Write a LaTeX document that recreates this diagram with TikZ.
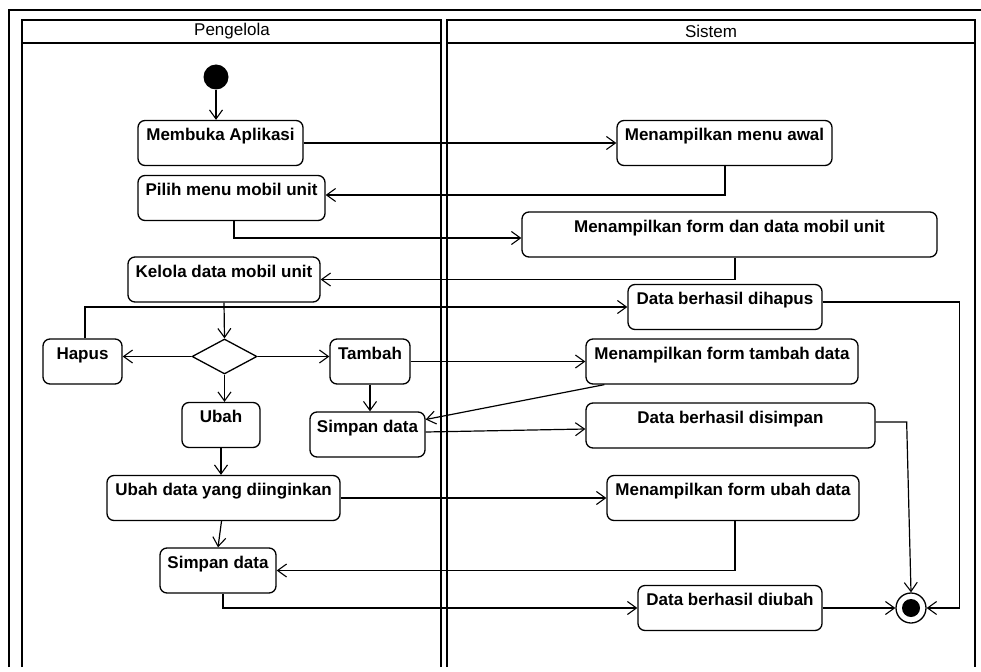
\documentclass[tikz,border=0pt]{standalone}
\usepackage{fontspec}
\setmainfont{Liberation Sans}
\usetikzlibrary{arrows.meta,shapes.geometric}
\begin{document}
\begin{tikzpicture}[x=1pt,y=-1pt,
  act/.style={draw, line width=1.3pt, rounded corners=7pt, inner sep=0pt,
    text height=20pt, text depth=25pt, minimum height=45pt,
    font=\fontsize{17}{20}\selectfont\bfseries},
  arr/.style={line width=1.2pt, -{Straight Barb[length=9pt,width=13pt,line width=1.1pt]}},
  lane/.style={line width=2pt},
  hdr/.style={font=\fontsize{17}{20}\selectfont, inner sep=0pt},
]
\useasboundingbox (0,0) rectangle (981,671);
\fill[white] (0,0) rectangle (981,671);

% frame and swimlanes
\draw[lane] (9,667) -- (9,10) -- (981,10);
\draw[lane] (22,667) -- (22,20) -- (441,20) -- (441,667);
\draw[lane] (22,43) -- (441,43);
\draw[lane] (447,667) -- (447,20) -- (975,20) -- (975,667);
\draw[lane] (447,43) -- (975,43);
\node[hdr] (hpeng) at (232,31.5) {Pengelola};
\node[hdr] (hsis) at (711,31.5) {Sistem};

% Pengelola nodes
\node[circle, fill=black, minimum size=25pt, inner sep=0pt] (start) at (216,77) {};
\node[act, minimum width=165pt] (mb) at (220.5,143) {Membuka Aplikasi};
\node[act, minimum width=187pt] (pm) at (231.5,198) {Pilih menu mobil unit};
\node[act, minimum width=192pt] (kd) at (224,279.5) {Kelola data mobil unit};
\node[draw, diamond, line width=1.3pt, minimum width=65pt, minimum height=35pt, inner sep=0pt, aspect=1.86] (dec) at (224.5,356.5) {};
\node[act, minimum width=79pt] (hp) at (82.5,361.5) {Hapus};
\node[act, minimum width=80pt] (tb) at (370,361.5) {Tambah};
\node[act, minimum width=78pt] (ub) at (221,425) {Ubah};
\node[act, minimum width=115pt] (sd1) at (367.5,434.5) {Simpan data};
\node[act, minimum width=233pt] (ud) at (223.5,498) {Ubah data yang diinginkan};
\node[act, minimum width=116pt] (sd2) at (218,570.5) {Simpan data};

% Sistem nodes
\node[act, minimum width=215pt] (ma) at (724.5,143) {Menampilkan menu awal};
\node[act, minimum width=415pt] (mf) at (729.5,234.5) {Menampilkan form dan data mobil unit};
\node[act, minimum width=194pt] (dh) at (725,307) {Data berhasil dihapus};
\node[act, minimum width=272pt] (mt) at (722,361.5) {Menampilkan form tambah data};
\node[act, minimum width=289pt] (ds) at (730.5,425.5) {Data berhasil disimpan};
\node[act, minimum width=252pt] (mu) at (733,498) {Menampilkan form ubah data};
\node[act, minimum width=184pt] (du) at (730,608) {Data berhasil diubah};
\node[circle, draw, line width=1.3pt, fill=white, minimum size=30pt, inner sep=0pt] (end) at (911,608) {};
\node[circle, fill=black, minimum size=18pt, inner sep=0pt] (endin) at (end.center) {};

% connectors
\draw[arr] (start.south) -- (start.south |- mb.north);
\draw[arr] (mb.east) -- (ma.west);
\draw[arr] ([xshift=0.5pt]ma.south) |- ([yshift=3pt]pm.east);
\draw[arr] ([xshift=2.5pt]pm.south) |- ([yshift=-3.5pt]mf.west);
\draw[arr] ([xshift=5.5pt]mf.south) |- (kd.east);
\draw[arr] (kd.south) -- (dec.north);
\draw[arr] (dec.west) -- (dec.west -| hp.east);
\draw[arr] (dec.east) -- (dec.east -| tb.west);
\draw[arr] (dec.south) -- (dec.south |- ub.north);
\draw[arr] ([xshift=2.5pt]hp.north) |- (dh.west);
\draw[arr] (tb.south) -- (tb.south |- sd1.north);
\draw[arr] (tb.east) -- (mt.west);
\draw[arr] ([xshift=19pt]mt.south west) -- ([yshift=15pt]sd1.east);
\draw[arr] ([yshift=2.5pt]sd1.east) -- ([yshift=-3.5pt]ds.west);
\draw[arr] (ub.south) -- (ub.south |- ud.north);
\draw[arr] (ud.east) -- (mu.west);
\draw[arr] ([xshift=-2pt]ud.south) -- (sd2.north);
\draw[arr] ([xshift=2pt]mu.south) |- (sd2.east);
\draw[arr] ([xshift=5pt]sd2.south) |- (du.west);
\draw[arr] (du.east) -- (end.west);
\draw[arr] ([yshift=5pt]dh.east) -| ([xshift=33pt]end.east) -- (end.east);
\draw[arr] ([yshift=3.5pt]ds.east) -- ++(31,0) -- (end.north);
\end{tikzpicture}
\end{document}
